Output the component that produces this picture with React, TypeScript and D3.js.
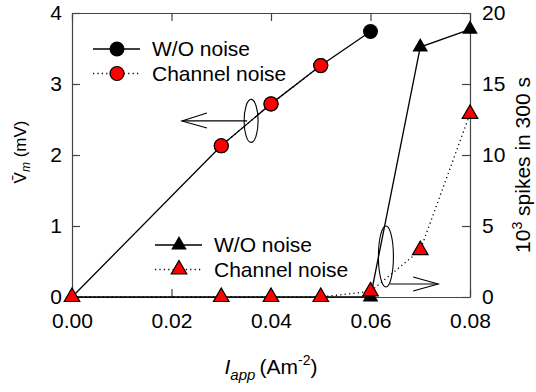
import React, { useEffect, useRef } from "react";
import * as d3 from "d3";

// applied current density (A m^-2)
const vmCurrents = [0, 0.03, 0.04, 0.05, 0.06];
const vmNoNoise = [0, 2.13, 2.72, 3.26, 3.74];
const vmChannelCurrents = [0.03, 0.04, 0.05];
const vmChannel = [2.13, 2.72, 3.26];

const spikeCurrents = [0, 0.03, 0.04, 0.05, 0.06, 0.07, 0.08];
const spikesNoNoise = [0, 0, 0, 0, 0, 17.6, 18.85];
const spikesChannel = [0, 0, 0, 0, 0.4, 3.3, 12.9];

const xTicks = [0, 0.02, 0.04, 0.06, 0.08];
const leftTicks = [0, 1, 2, 3, 4];
const rightTicks = [0, 5, 10, 15, 20];
const legendLabels = ["W/O noise", "Channel noise"];

const W = 536;
const H = 392;
const margin = { top: 13, right: 66, bottom: 95, left: 72 };
const FONT = "'Liberation Sans', Arial, sans-serif";

const App = () => {
  const svgRef = useRef<SVGSVGElement>(null);

  useEffect(() => {
    const svg = d3.select(svgRef.current);
    svg.selectAll("*").remove();

    const iw = W - margin.left - margin.right;
    const ih = H - margin.top - margin.bottom;

    const x = d3.scaleLinear().domain([0, 0.08]).range([0, iw]);
    const yL = d3.scaleLinear().domain([0, 4]).range([ih, 0]);
    const yR = d3.scaleLinear().domain([0, 20]).range([ih, 0]);

    const g = svg
      .append("g")
      .attr("transform", `translate(${margin.left},${margin.top})`);

    const styleAxis = (sel) => {
      sel.select(".domain").attr("stroke", "#444").attr("stroke-width", 1.2);
      sel.selectAll(".tick line").attr("stroke", "#444").attr("stroke-width", 1.2);
      sel
        .selectAll(".tick text")
        .attr("fill", "#000")
        .style("font-family", FONT)
        .style("font-size", "21px");
    };

    // bottom axis
    g.append("g")
      .attr("transform", `translate(0,${ih})`)
      .call(
        d3.axisBottom(x).tickValues(xTicks).tickSizeInner(-8).tickSizeOuter(0).tickPadding(16)
          .tickFormat(d3.format(".2f"))
      )
      .call(styleAxis);

    // top axis
    g.append("g")
      .call(d3.axisTop(x).tickValues(xTicks).tickSizeInner(-8).tickSizeOuter(0).tickFormat(() => ""))
      .call(styleAxis);

    // left axis
    g.append("g")
      .call(d3.axisLeft(yL).tickValues(leftTicks).tickSizeInner(-8).tickSizeOuter(0).tickPadding(10)
        .tickFormat(d3.format("d")))
      .call(styleAxis);

    // right axis
    g.append("g")
      .attr("transform", `translate(${iw},0)`)
      .call(d3.axisRight(yR).tickValues(rightTicks).tickSizeInner(-8).tickSizeOuter(0).tickPadding(12)
        .tickFormat(d3.format("d")))
      .call(styleAxis);

    const lineStroke = 1.3;
    const dots = "1.2,3.2";

    // membrane potential lines
    const vmLine = d3.line<number>().x((_, i) => x(vmCurrents[i])).y((d) => yL(d));
    g.append("path")
      .attr("d", vmLine(vmNoNoise))
      .attr("fill", "none")
      .attr("stroke", "#000")
      .attr("stroke-width", lineStroke);

    const vmChLine = d3.line<number>().x((_, i) => x(vmChannelCurrents[i])).y((d) => yL(d));
    g.append("path")
      .attr("d", vmChLine(vmChannel))
      .attr("fill", "none")
      .attr("stroke", "#000")
      .attr("stroke-width", lineStroke)
      .attr("stroke-dasharray", dots);

    // spike count lines
    const spLine = d3.line<number>().x((_, i) => x(spikeCurrents[i])).y((d) => yR(d));
    g.append("path")
      .attr("d", spLine(spikesNoNoise))
      .attr("fill", "none")
      .attr("stroke", "#000")
      .attr("stroke-width", lineStroke);
    g.append("path")
      .attr("d", spLine(spikesChannel))
      .attr("fill", "none")
      .attr("stroke", "#000")
      .attr("stroke-width", lineStroke)
      .attr("stroke-dasharray", dots);

    // circle markers (origin point is hidden under triangles)
    g.selectAll(".vm-black")
      .data(vmNoNoise.slice(1))
      .enter()
      .append("circle")
      .attr("cx", (_, i) => x(vmCurrents[i + 1]))
      .attr("cy", (d) => yL(d))
      .attr("r", 7.5)
      .attr("fill", "#000");

    g.selectAll(".vm-red")
      .data(vmChannel)
      .enter()
      .append("circle")
      .attr("cx", (_, i) => x(vmChannelCurrents[i]))
      .attr("cy", (d) => yL(d))
      .attr("r", 7)
      .attr("fill", "#f00")
      .attr("stroke", "#000")
      .attr("stroke-width", 1.2);

    const tri = d3.symbol().type(d3.symbolTriangle).size(105);

    g.selectAll(".sp-black")
      .data(spikesNoNoise)
      .enter()
      .append("path")
      .attr("d", tri())
      .attr("transform", (d, i) => `translate(${x(spikeCurrents[i])},${yR(d)})`)
      .attr("fill", "#000");

    g.selectAll(".sp-red")
      .data(spikesChannel)
      .enter()
      .append("path")
      .attr("d", tri())
      .attr("transform", (d, i) => `translate(${x(spikeCurrents[i])},${yR(d)})`)
      .attr("fill", "#f00")
      .attr("stroke", "#000")
      .attr("stroke-width", 1.2);

    // legends
    const legend = (lx, ly, kind) => {
      legendLabels.forEach((label, i) => {
        const row = g.append("g").attr("transform", `translate(${lx},${ly + i * 24.5})`);
        row.append("line")
          .attr("x1", 0).attr("x2", 47)
          .attr("stroke", "#000")
          .attr("stroke-width", lineStroke)
          .attr("stroke-dasharray", i === 0 ? null : dots);
        if (kind === "circle") {
          row.append("circle")
            .attr("cx", 24).attr("r", i === 0 ? 7.5 : 7)
            .attr("fill", i === 0 ? "#000" : "#f00")
            .attr("stroke", i === 0 ? null : "#000")
            .attr("stroke-width", 1.2);
        } else {
          row.append("path")
            .attr("d", tri())
            .attr("transform", "translate(24,0)")
            .attr("fill", i === 0 ? "#000" : "#f00")
            .attr("stroke", i === 0 ? null : "#000")
            .attr("stroke-width", 1.2);
        }
        row.append("text")
          .attr("x", 59).attr("dy", "0.35em")
          .style("font-family", FONT).style("font-size", "21px")
          .text(label);
      });
    };
    legend(21, 36, "circle");
    legend(83, 232, "triangle");

    // annotation arrows with ellipses
    const ann = g.append("g").attr("fill", "none").attr("stroke", "#000").attr("stroke-width", 1.1);
    // left: pointing to left axis
    const lx0 = x(0.036), ly0 = yL(2.48), ltip = x(0.0221);
    ann.append("ellipse").attr("cx", lx0).attr("cy", ly0).attr("rx", 7).attr("ry", 21.5);
    ann.append("line").attr("x1", lx0 - 4).attr("y1", ly0).attr("x2", ltip).attr("y2", ly0);
    ann.append("path").attr("d", `M${ltip + 25},${ly0 - 8}L${ltip},${ly0}L${ltip + 25},${ly0 + 7}`);
    // right: pointing to right axis
    const rx0 = x(0.0631), ry0 = yR(2.85);
    const ay = yR(0.92), astart = x(0.0639), atip = x(0.0736);
    ann.append("ellipse").attr("cx", rx0).attr("cy", ry0).attr("rx", 7.5).attr("ry", 30.5);
    ann.append("line").attr("x1", astart).attr("y1", ay).attr("x2", atip).attr("y2", ay);
    ann.append("path").attr("d", `M${atip - 25},${ay - 7}L${atip},${ay}L${atip - 25},${ay + 7}`);

    // axis titles
    const xt = svg.append("text")
      .attr("x", 271).attr("y", 374)
      .attr("text-anchor", "middle")
      .style("font-family", FONT).style("font-size", "21px");
    xt.append("tspan").style("font-style", "italic").text("I");
    xt.append("tspan").style("font-style", "italic").style("font-size", "15px").attr("dy", 6).text("app");
    xt.append("tspan").attr("dy", -6).text("\u2009(Am");
    xt.append("tspan").style("font-size", "14px").attr("dy", -9).text("-2");
    xt.append("tspan").attr("dy", 9).text(")");

    const yt = svg.append("text")
      .attr("transform", "translate(26,152) rotate(-90)")
      .attr("text-anchor", "middle")
      .style("font-family", FONT).style("font-size", "17px");
    yt.append("tspan").text("V\u0304");
    yt.append("tspan").style("font-style", "italic").style("font-size", "12px").attr("dy", 4).text("m");
    yt.append("tspan").attr("dy", -4).text(" (mV)");

    const rt = svg.append("text")
      .attr("transform", "translate(530,165) rotate(-90)")
      .attr("text-anchor", "middle")
      .style("font-family", FONT).style("font-size", "21px");
    rt.append("tspan").text("10");
    rt.append("tspan").style("font-size", "14px").attr("dy", -8).text("3");
    rt.append("tspan").attr("dy", 8).text(" spikes in 300 s");
  }, []);

  return (
    <svg
      ref={svgRef}
      width={W}
      height={H}
      style={{ position: "absolute", left: 0, top: 0, background: "#fff" }}
    />
  );
};

export default App;
